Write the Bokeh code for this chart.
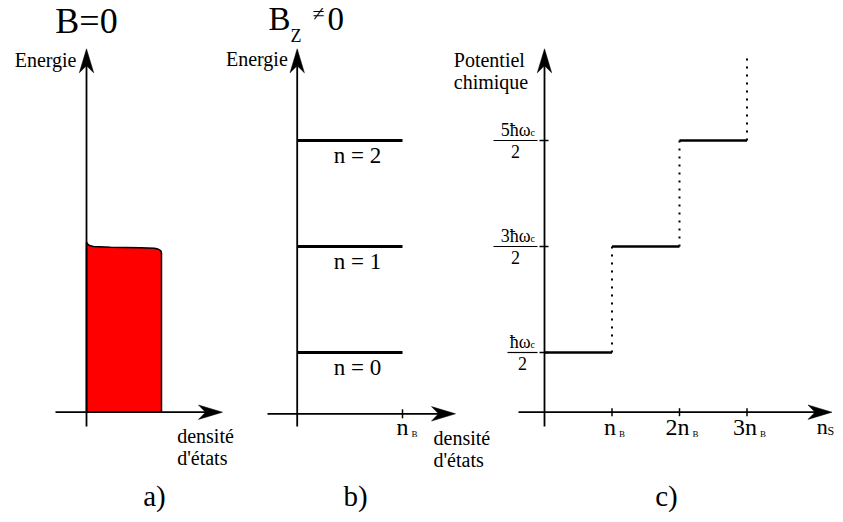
import math
from bokeh.plotting import figure
from bokeh.models import Range1d
from bokeh.core.properties import value
from bokeh.embed import file_html
from bokeh.resources import INLINE

# ---------------- data ----------------
# a) B = 0 : filled density of states (top edge; density in arbitrary units,
#    energy in units of hbar*omega_c)
dos_density = [0.0, 0.013, 0.04, 0.093, 0.32, 0.72, 0.907, 0.96, 0.993, 1.0]
dos_energy = [1.541, 1.524, 1.509, 1.500, 1.494, 1.488, 1.483, 1.474, 1.458, 1.434]

# b) Bz != 0 : Landau levels, each of degeneracy n_B
landau_n = [0, 1, 2]
landau_energy = [0.5, 1.5, 2.5]
landau_degeneracy = [1, 1, 1]  # in units of n_B

# c) chemical potential versus n_s (n_s in units of n_B)
ns_edges = [0, 1, 2, 3]
mu_levels = [0.5, 1.5, 2.5]
mu_numerators = ["ħω", "3ħω", "5ħω"]
ns_ticks = [1, 2, 3]
ns_tick_labels = ["n", "2n", "3n"]

# ---------------- layout (page pixels) ----------------
FONT = "'Liberation Serif', 'Times New Roman', serif"
W, H = 843, 522
E0_PAGE, PX_PER_E = 405.0, 106.0
ORIG = {"a": (86.0, 75.0), "b": (296.7, 105.3), "c": (544.0, 67.5)}


def e_of(py):
    return (E0_PAGE - py) / PX_PER_E


def prange(name):
    o, s = ORIG[name]
    return Range1d((0 - o) / s, (W - o) / s)


p = figure(width=W, height=H,
           x_range=Range1d(0, W),
           y_range=Range1d(e_of(H), e_of(0)),
           output_backend="svg", toolbar_location=None,
           x_axis_type=None, y_axis_type=None, min_border=0,
           outline_line_color=None, background_fill_color="white",
           border_fill_color="white")
p.extra_x_ranges = {k: prange(k) for k in ORIG}
p.extra_y_ranges = {"page": Range1d(H, 0)}

MID = 0.34  # middle of the em box above the baseline, in em


def txt(x, y, s, size, align="left", xr="default", yr="page", xo=0, yo=0):
    # y is the baseline position; text is drawn with a "middle" baseline
    p.text(x=[x], y=[y], text=[s], text_font=value(FONT),
           text_font_size=f"{size}px", text_align=align,
           text_baseline="middle", text_color="black",
           x_offset=xo, y_offset=yo - MID * size,
           x_range_name=xr, y_range_name=yr)


def arrow(x0, y0, x1, y1, L=24.0, Wd=7.2, N=17.0, lw=1.8):
    dx, dy = x1 - x0, y1 - y0
    d = math.hypot(dx, dy)
    ux, uy = dx / d, dy / d
    nx, ny = -uy, ux
    bx, by = x1 - L * ux, y1 - L * uy
    p.line([x0, x1 - (N - 1) * ux], [y0, y1 - (N - 1) * uy],
           y_range_name="page", line_color="black", line_width=lw)
    p.patch([x1, bx + Wd * nx, x1 - N * ux, bx - Wd * nx],
            [y1, by + Wd * ny, y1 - N * uy, by - Wd * ny],
            y_range_name="page", fill_color="black", line_color="black",
            line_width=0.5)


# ================= panel a =================
axis_a = 411.7
p.patch(dos_density + [dos_density[-1], dos_density[0]],
        dos_energy + [e_of(axis_a), e_of(axis_a)],
        x_range_name="a", fill_color="#ff0000", line_color="black",
        line_width=1.5)
arrow(86, 426, 86, 48.3)
arrow(55, axis_a, 222, axis_a)
txt(86, 33, "B=0", 36, align="center")
txt(76, 66, "Energie", 20, align="right")
txt(176.7, 442, "densité", 20)
txt(176.7, 464, "d'états", 20)
txt(154, 505, "a)", 29, align="center")

# ================= panel b =================
axis_b = 413.3
p.segment(x0=[0] * len(landau_energy), x1=landau_degeneracy,
          y0=landau_energy, y1=landau_energy, x_range_name="b",
          line_color="black", line_width=3)
p.text(x=[0.348] * len(landau_n), y=landau_energy,
       text=[f"n = {n}" for n in landau_n], x_range_name="b",
       text_font=value(FONT), text_font_size="23px", text_align="left",
       text_baseline="middle", y_offset=22.7 - MID * 23, text_color="black")
arrow(296.7, 426, 296.7, 48.3)
arrow(267, axis_b, 455, axis_b)
p.segment(x0=[1], x1=[1], y0=[axis_b - 4.5], y1=[axis_b + 4.5],
          x_range_name="b", y_range_name="page", line_color="black",
          line_width=1.5)
txt(1, 435, "n", 24, align="center", xr="b")
txt(1, 437, "B", 9, align="left", xr="b", xo=9)
txt(268, 30, "B", 33)
txt(290, 42, "Z", 18)
txt(318, 20.5, "≠", 22, align="center")
txt(327, 30, "0", 33)
txt(287.3, 65, "Energie", 20, align="right")
txt(433, 444, "densité", 20)
txt(433, 466, "d'états", 20)
txt(355, 505, "b)", 29, align="center")

# ================= panel c =================
axis_c = 411.7
top_e = e_of(55)
p.segment(x0=ns_edges[:-1], x1=ns_edges[1:], y0=mu_levels, y1=mu_levels,
          x_range_name="c", line_color="black", line_width=2.5)
p.segment(x0=ns_edges[1:], x1=ns_edges[1:], y0=mu_levels,
          y1=mu_levels[1:] + [top_e], x_range_name="c",
          line_color="black", line_width=2, line_dash="2 6")
arrow(544, 426, 544, 48.3)
arrow(518, axis_c, 831.5, axis_c)
# y ticks + fraction labels
p.segment(x0=[539] * len(mu_levels), x1=[548] * len(mu_levels),
          y0=mu_levels, y1=mu_levels, line_color="black", line_width=1.5)
for lev, num in zip(mu_levels, mu_numerators):
    w = 30 if len(num) == 2 else 44
    x0 = 537 - w
    p.segment(x0=[x0], x1=[537], y0=[lev], y1=[lev], line_color="black",
              line_width=1.2)
    txt(530, lev, num, 18, align="right", yr="default", yo=-4.7)
    txt(530, lev, "c", 10, align="left", yr="default", yo=-4.5)
    txt((x0 + 537) / 2, lev, "2", 18, align="center", yr="default", yo=17)
# x ticks
p.segment(x0=ns_ticks, x1=ns_ticks, y0=[axis_c - 4] * len(ns_ticks),
          y1=[axis_c + 4] * len(ns_ticks), x_range_name="c",
          y_range_name="page", line_color="black", line_width=1.5)
for t, lab in zip(ns_ticks, ns_tick_labels):
    mw = 12 * len(lab)
    txt(t, 435, lab, 24, align="center", xr="c", xo=-2)
    txt(t, 437, "B", 9, align="left", xr="c", xo=mw / 2 - 2 + 3)
txt(816.3, 433.3, "n", 22)
txt(827, 435, "S", 12)
txt(453.3, 66.7, "Potentiel", 20)
txt(453.3, 88.3, "chimique", 20)
txt(666, 505, "c)", 29, align="center")

with open("out.html", "w", encoding="utf-8") as f:
    f.write(file_html(p, INLINE, title="Niveaux de Landau"))
